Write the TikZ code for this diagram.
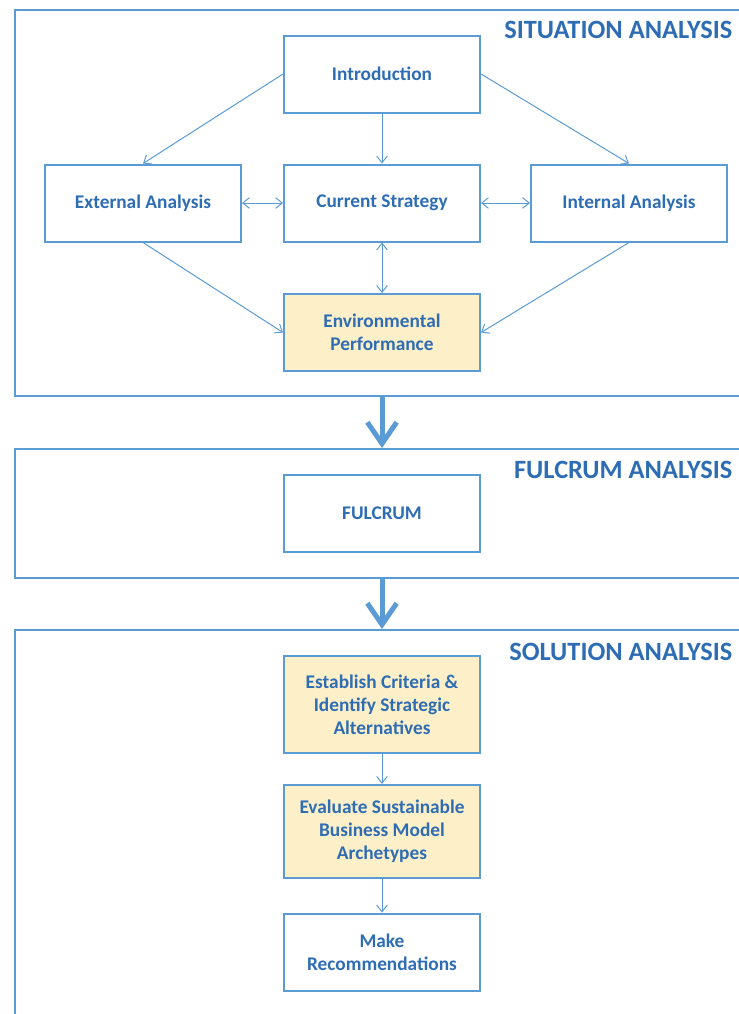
\documentclass[tikz,border=0pt]{standalone}
\usepackage{fontspec}
\setmainfont{Carlito}
\usetikzlibrary{arrows.meta}
\definecolor{lineblue}{HTML}{5B9BD5}
\definecolor{textblue}{HTML}{2E6DB4}
\definecolor{paleyellow}{HTML}{FDEFC8}

\begin{document}
\begin{tikzpicture}[x=0.75pt,y=-0.75pt,
  every node/.style={font=\fontsize{14.5}{17.3}\selectfont\bfseries, text=textblue},
  box/.style={shape=rectangle, draw=lineblue, line width=1.5pt, fill=white,
    minimum width=147pt, minimum height=57.75pt, align=center, inner sep=1pt},
  shaded/.style={box, fill=paleyellow},
  frame/.style={shape=rectangle, draw=lineblue, line width=1.5pt},
  title/.style={anchor=east, font=\fontsize{19.8}{23}\selectfont\bfseries},
  thin/.style={draw=lineblue, line width=0.75pt, -{Straight Barb[length=5pt,width=8pt]}},
  both/.style={thin, {Straight Barb[length=5pt,width=8pt]}-{Straight Barb[length=5pt,width=8pt]}},
  fat/.style={draw=lineblue, line width=3.75pt, -{Straight Barb[length=16pt,width=22pt]}}]
%[inner sep=1mm]
\useasboundingbox (0,0) rectangle (739,1014);

% the three sections
\path (382,203) node (SIT) [frame, minimum width=550.5pt, minimum height=289.5pt] {};
\path (382,513.5) node (FUL) [frame, minimum width=550.5pt, minimum height=96.75pt] {};
\path (382,830) node (SOL) [frame, minimum width=550.5pt, minimum height=300pt] {};
\path (737,30) node (T1) [title] {SITUATION ANALYSIS};
\path (737,470) node (T2) [title] {FULCRUM ANALYSIS};
\path (737,652) node (T3) [title] {SOLUTION ANALYSIS};

\path (382,74) node (INT) [box] {Introduction};
\path (143,203) node (EXT) [box] {External Analysis};
\path (382,203) node (CUR) [box] {Current Strategy};
\path (629,203) node (INA) [box] {Internal Analysis};
\path (382,332.5) node (ENV) [shaded] {Environmental\\Performance};

\path (382,513.5) node (FC) [box] {FULCRUM};

\path (382,704.5) node (EST) [shaded, minimum height=72.75pt] {Establish Criteria \&\\Identify Strategic\\Alternatives};
\path (382,831.5) node (EVA) [shaded, minimum height=70pt] {Evaluate Sustainable\\Business Model\\Archetypes};
\path (382,952) node (REC) [box] {Make\\Recommendations};

\draw[thin] (INT.west) -- (EXT.north);
\draw[thin] (INT.east) -- (INA.north);
\draw[thin] (INT) -- (CUR);
\draw[both] (EXT) -- (CUR);
\draw[both] (CUR) -- (INA);
\draw[both] (CUR) -- (ENV);
\draw[thin] (EXT.south) -- (ENV.west);
\draw[thin] (INA.south) -- (ENV.east);

\draw[fat] (SIT.south) -- (FUL.north);
\draw[fat] (FUL.south) -- (SOL.north);

\draw[thin] (EST) -- (EVA);
\draw[thin] (EVA) -- (REC);

\end{tikzpicture}
\end{document}
